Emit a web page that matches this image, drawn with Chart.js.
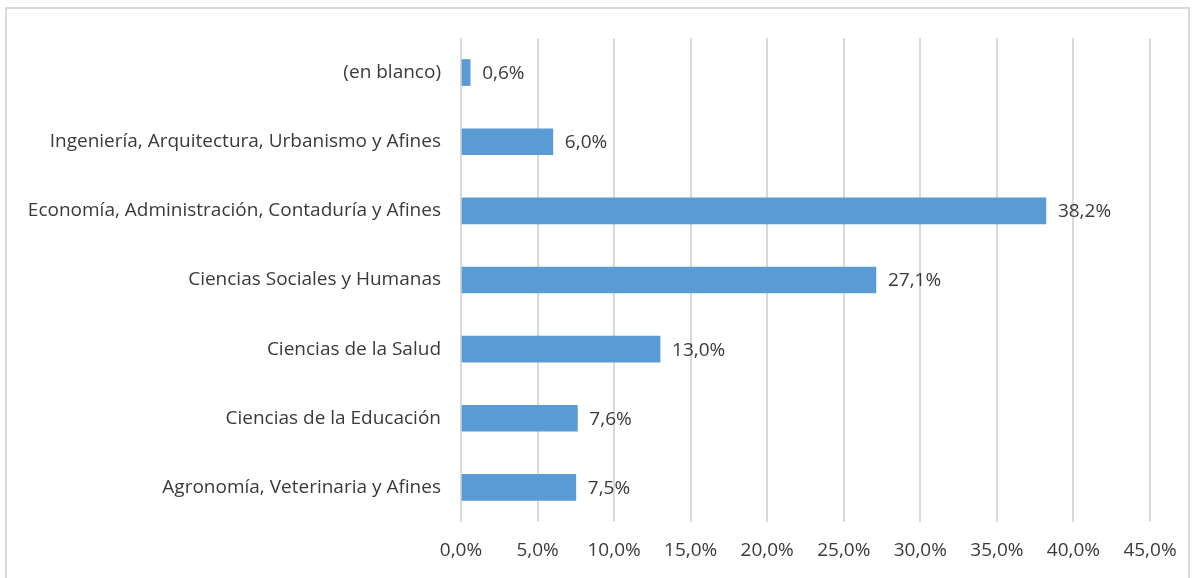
<!DOCTYPE html>
<html lang="es">
<head>
<meta charset="UTF-8">
<title>Áreas de conocimiento</title>
<style>
    html, body { margin: 0; padding: 0; background: #fff; }
    .frame {
        position: absolute; left: 5px; top: 7px; width: 1185px; height: 580px;
        border: 2px solid #d9d9d9; box-sizing: border-box;
    }
    .chart { position: absolute; left: 0; top: 0; width: 1197px; height: 578px; }
</style>
<script src="https://cdn.jsdelivr.net/npm/chart.js@4.4.9/dist/chart.umd.min.js"></script>
</head>
<body>
<div class="frame"></div>
<div class="chart"><canvas id="areasChart" width="1197" height="578"></canvas></div>
<script>
    const categorias = [
        '(en blanco)',
        'Ingeniería, Arquitectura, Urbanismo y Afines',
        'Economía, Administración, Contaduría y Afines',
        'Ciencias Sociales y Humanas',
        'Ciencias de la Salud',
        'Ciencias de la Educación',
        'Agronomía, Veterinaria y Afines'
    ];
    const porcentajes = [0.6, 6.0, 38.2, 27.1, 13.0, 7.6, 7.5];
    const ejeMin = 0;
    const ejeMax = 45;
    const ejePaso = 5;

    const fuente = '"Open Sans", sans-serif';
    const tamFuente = 19;
    const colorTexto = '#3a3a3a';

    function fmt(v) {
        return v.toFixed(1).replace('.', ',') + '%';
    }

    // etiquetas de valor a la derecha de cada barra
    const etiquetasBarras = {
        id: 'etiquetasBarras',
        afterDatasetsDraw(chart) {
            const ctx = chart.ctx;
            const meta = chart.getDatasetMeta(0);
            ctx.save();
            ctx.font = tamFuente + 'px ' + fuente;
            ctx.fillStyle = colorTexto;
            ctx.textAlign = 'left';
            ctx.textBaseline = 'middle';
            meta.data.forEach((bar, i) => {
                ctx.fillText(fmt(porcentajes[i]), bar.x + 12, bar.y + 1);
            });
            ctx.restore();
        }
    };

    Chart.defaults.font.family = fuente;
    Chart.defaults.color = colorTexto;

    const ctx = document.getElementById('areasChart').getContext('2d');
    new Chart(ctx, {
        type: 'bar',
        data: {
            labels: categorias,
            datasets: [{
                data: porcentajes,
                backgroundColor: '#5b9bd5',
                borderColor: '#5b9bd5',
                borderWidth: 0,
                barThickness: 26
            }]
        },
        options: {
            indexAxis: 'y',
            responsive: false,
            animation: false,
            layout: { padding: { top: 38, right: 47, left: 0, bottom: 0 } },
            plugins: {
                legend: { display: false },
                tooltip: { enabled: false }
            },
            scales: {
                x: {
                    min: ejeMin,
                    max: ejeMax,
                    afterFit: (scale) => { scale.height = 56; },
                    grid: { color: '#d9d9d9', lineWidth: 2, drawTicks: false },
                    border: { display: false },
                    ticks: {
                        stepSize: ejePaso,
                        padding: 17,
                        font: { size: tamFuente },
                        callback: (v) => fmt(v)
                    }
                },
                y: {
                    afterFit: (scale) => { scale.width = 461; },
                    grid: { display: false, drawTicks: false },
                    border: { display: false },
                    ticks: {
                        padding: 20,
                        font: { size: tamFuente }
                    }
                }
            }
        },
        plugins: [etiquetasBarras]
    });
</script>
</body>
</html>
